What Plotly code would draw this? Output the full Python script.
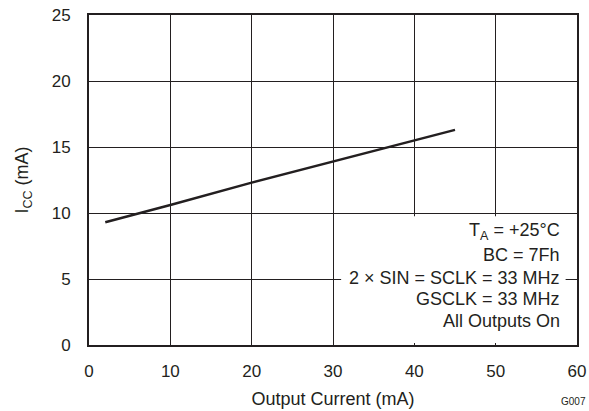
import plotly.graph_objects as go

# Data
output_current = [2, 10, 20, 30, 40, 45]
icc = [9.3, 10.6, 12.3, 13.9, 15.55, 16.3]

x_ticks = [0, 10, 20, 30, 40, 50, 60]
y_ticks = [0, 5, 10, 15, 20, 25]

cond_lines = [
    "T<sub>A</sub> = +25°C",
    "BC = 7Fh",
    "2 × SIN = SCLK = 33 MHz",
    "GSCLK = 33 MHz",
    "All Outputs On",
]
cond_y = [8.6, 6.85, 5.05, 3.45, 1.85]

FONT = "Liberation Sans, Arial, sans-serif"
INK = "#231f20"

fig = go.Figure()
fig.add_trace(go.Scatter(
    x=output_current, y=icc, mode="lines",
    line=dict(color=INK, width=2.5),
    showlegend=False, hoverinfo="skip",
))

fig.update_layout(
    width=589, height=411,
    margin=dict(l=89, r=12, t=15, b=66, autoexpand=False),
    paper_bgcolor="white", plot_bgcolor="white",
    font=dict(family=FONT, size=17, color=INK),
    xaxis=dict(
        range=[0, 60], tickvals=x_ticks, ticktext=[str(v) for v in x_ticks],
        showgrid=True, gridcolor=INK, gridwidth=1,
        showline=True, linecolor=INK, linewidth=2, mirror=True,
        zeroline=False, ticks="", ticklabelstandoff=10, automargin=False,
        tickfont=dict(size=17),
        title=dict(text="Output Current (mA)", standoff=12, font=dict(size=18)),
        fixedrange=True,
    ),
    yaxis=dict(
        range=[0, 25], tickvals=y_ticks, ticktext=[str(v) for v in y_ticks],
        showgrid=True, gridcolor=INK, gridwidth=1,
        showline=True, linecolor=INK, linewidth=2, mirror=True,
        zeroline=False, ticks="", ticklabelstandoff=13, automargin=False,
        tickfont=dict(size=17),
        title=dict(text="I<sub>CC</sub> (mA)", standoff=18, font=dict(size=18)),
        fixedrange=True,
    ),
)

# white box behind the condition text, covering grid lines
fig.add_shape(
    type="rect", xref="x", yref="y", x0=31.0, x1=58.6, y0=0.15, y1=9.75,
    fillcolor="white", line=dict(width=0), layer="above",
)

for txt, yv in zip(cond_lines, cond_y):
    fig.add_annotation(
        x=58.2, y=yv, xref="x", yref="y", text=txt, showarrow=False,
        xanchor="right", yanchor="middle", align="right",
        font=dict(size=18, family=FONT, color=INK),
    )

fig.add_annotation(
    x=1.0, y=0, xref="paper", yref="paper", text="G007", showarrow=False,
    xanchor="right", yanchor="top", yshift=-49, xshift=11,
    font=dict(size=10, family=FONT, color=INK),
)

fig.write_html("out.html", config={"displayModeBar": False},
               post_script="document.body.style.margin='0';")
